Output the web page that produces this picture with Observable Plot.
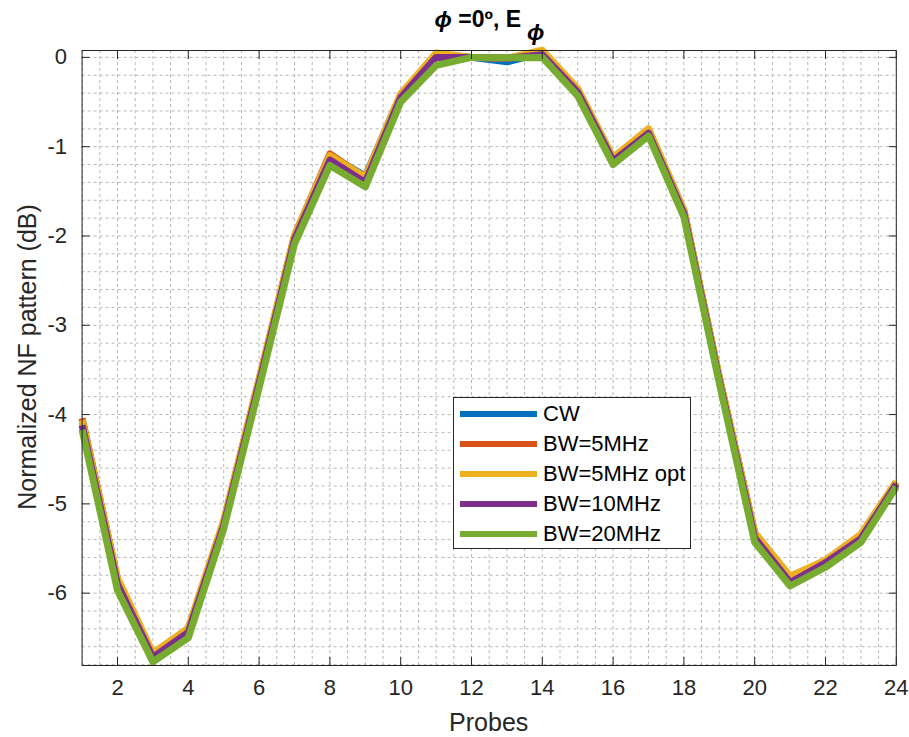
<!DOCTYPE html>
<html>
<head>
<meta charset="utf-8">
<script src="https://cdn.jsdelivr.net/npm/d3@7"></script>
<script src="https://cdn.jsdelivr.net/npm/@observablehq/plot@0.6"></script>
<style>
  html, body { margin: 0; padding: 0; background: #fff; }
  body { font-family: "Liberation Sans", Arial, Helvetica, sans-serif; color: #262626; }
  #wrap { position: relative; width: 909px; height: 737px; overflow: hidden; }
  #chart { position: absolute; left: 0; top: 0; }
  .title { position: absolute; top: 6px; left: 489.5px; transform: translateX(-50%); font-size: 23px; font-weight: bold; white-space: nowrap; color: #000; }
  .title .phi { font-style: italic; }
  .title .sub { position: relative; top: 13px; margin-left: 6px; font-style: italic; }
  .xlabel { position: absolute; left: 488.7px; top: 722px; transform: translate(-50%, -50%); font-size: 25px; white-space: nowrap; }
  .ylabel { position: absolute; left: 27px; top: 357px; transform: translate(-50%, -50%) rotate(-90deg); font-size: 25px; white-space: nowrap; }
  .legend { position: absolute; left: 453px; top: 397px; width: 238px; height: 152px; box-sizing: border-box; border: 1px solid #262626; background: #fff; }
  .legend .row { position: absolute; left: 0; height: 30px; width: 100%; }
  .legend .sw { position: absolute; left: 6px; width: 77px; height: 6px; top: 12px; }
  .legend .lt { position: absolute; left: 89px; top: 0; line-height: 30px; font-size: 22px; color: #000; white-space: nowrap; }
</style>
</head>
<body>
<div id="wrap"></div>
<script>
// ---- data ----
const probes = [1,2,3,4,5,6,7,8,9,10,11,12,13,14,15,16,17,18,19,20,21,22,23,24];
const seriesNames = ["CW", "BW=5MHz", "BW=5MHz opt", "BW=10MHz", "BW=20MHz"];
const seriesColors = ["#0072BD", "#D95319", "#EDB120", "#7E2F8E", "#77AC30"];
const cw     = [-4.06,-5.85,-6.69,-6.41,-5.21,-3.62,-2.01,-1.10,-1.33,-0.42,0.03,0.00,-0.05,0.05,-0.36,-1.13,-0.81,-1.72,-3.59,-5.33,-5.83,-5.64,-5.35,-4.76];
const bw5    = [-4.04,-5.84,-6.68,-6.40,-5.20,-3.61,-2.00,-1.08,-1.35,-0.42,0.04,0.00,-0.01,0.06,-0.36,-1.13,-0.81,-1.72,-3.59,-5.33,-5.83,-5.64,-5.35,-4.76];
const bw5opt = [-4.06,-5.83,-6.67,-6.39,-5.19,-3.60,-1.99,-1.10,-1.34,-0.41,0.05,0.00,-0.01,0.08,-0.35,-1.12,-0.80,-1.71,-3.58,-5.32,-5.81,-5.63,-5.34,-4.75];
const bw10   = [-4.12,-5.90,-6.72,-6.44,-5.24,-3.65,-2.04,-1.15,-1.40,-0.45,0.00,0.00,-0.01,0.03,-0.39,-1.16,-0.85,-1.75,-3.62,-5.38,-5.88,-5.66,-5.39,-4.78];
const bw20   = [-4.17,-5.97,-6.77,-6.50,-5.28,-3.70,-2.09,-1.21,-1.45,-0.50,-0.09,0.00,-0.005,0.00,-0.43,-1.20,-0.88,-1.79,-3.65,-5.43,-5.92,-5.71,-5.43,-4.81];
const xTicks = [2,4,6,8,10,12,14,16,18,20,22,24];
const yTicks = [0,-1,-2,-3,-4,-5,-6];
const xLabel = "Probes";
const yLabel = "Normalized NF pattern (dB)";

// ---- build table ----
const seriesValues = [cw, bw5, bw5opt, bw10, bw20];
const rows = [];
seriesValues.forEach((vals, si) => {
  probes.forEach((p, i) => rows.push({probe: p, value: vals[i], series: seriesNames[si]}));
});

const minorX = d3.range(2, 49).map(k => k / 2);            // every 0.5
const minorY = d3.range(-34, 1).map(k => +(k * 0.2).toFixed(1)); // every 0.2

const gridStyle = {stroke: "#b8b8b8", strokeWidth: 1, strokeDasharray: "3,3"};
const noText = () => "";

const chart = Plot.plot({
  width: 909,
  height: 737,
  marginLeft: 81.6,
  marginRight: 13.2,
  marginTop: 50,
  marginBottom: 72,
  x: {domain: [1, 24]},
  y: {domain: [-6.81, 0.077]},
  color: {domain: seriesNames, range: seriesColors},
  style: {fontFamily: '"Liberation Sans", Arial, Helvetica, sans-serif', color: "#262626", background: "white"},
  marks: [
    Plot.ruleX(minorX, {...gridStyle}),
    Plot.ruleY(minorY, {...gridStyle}),
    Plot.line(rows, {x: "probe", y: "value", z: "series", stroke: "series", strokeWidth: 7, strokeLinejoin: "round", strokeLinecap: "butt"}),
    Plot.axisX(xTicks, {anchor: "bottom", tickSize: 0, tickPadding: 14, fontSize: 22, label: null, tickFormat: d => String(d)}),
    Plot.axisX(xTicks, {anchor: "bottom", tickSize: -8, tickFormat: noText, label: null}),
    Plot.axisX(xTicks, {anchor: "top", tickSize: -8, tickFormat: noText, label: null}),
    Plot.axisY(yTicks, {anchor: "left", tickSize: 0, tickPadding: 15, fontSize: 22, label: null, tickFormat: d => String(d)}),
    Plot.axisY(yTicks, {anchor: "left", tickSize: -8, tickFormat: noText, label: null}),
    Plot.axisY(yTicks, {anchor: "right", tickSize: -8, tickFormat: noText, label: null}),
    Plot.frame({stroke: "#262626", strokeWidth: 1})
  ]
});
chart.id = "chart";

const wrap = document.getElementById("wrap");
wrap.appendChild(chart);

// title
const title = document.createElement("div");
title.className = "title";
title.innerHTML = '<span class="phi">\u03D5</span> =0\u00BA, E<span class="sub">\u03D5</span>';
wrap.appendChild(title);

// axis labels
const xl = document.createElement("div");
xl.className = "xlabel"; xl.textContent = xLabel; wrap.appendChild(xl);
const yl = document.createElement("div");
yl.className = "ylabel"; yl.textContent = yLabel; wrap.appendChild(yl);

// legend
const legend = document.createElement("div");
legend.className = "legend";
seriesNames.forEach((name, i) => {
  const row = document.createElement("div");
  row.className = "row";
  row.style.top = (1 + i * 30) + "px";
  const sw = document.createElement("div");
  sw.className = "sw"; sw.style.background = seriesColors[i];
  const lt = document.createElement("div");
  lt.className = "lt"; lt.textContent = name;
  row.appendChild(sw); row.appendChild(lt);
  legend.appendChild(row);
});
wrap.appendChild(legend);
</script>
</body>
</html>
